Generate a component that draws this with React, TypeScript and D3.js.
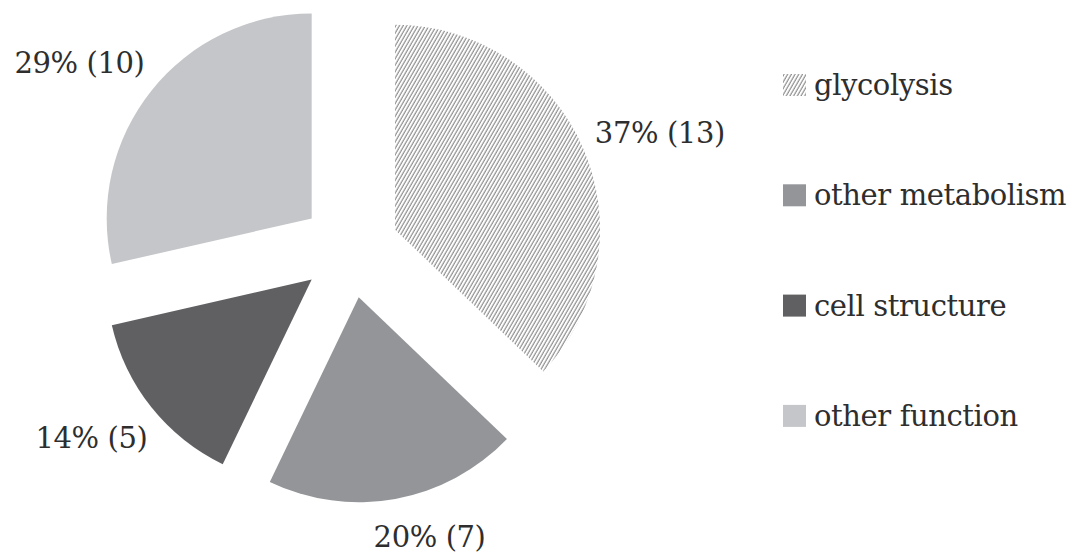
import React, { useRef, useEffect } from 'react';
import * as d3 from 'd3';

const WIDTH = 1071;
const HEIGHT = 554;

// Data
const categories = ['glycolysis', 'other metabolism', 'cell structure', 'other function'];
const counts = [13, 7, 5, 10];
const percents = ['37%', '20%', '14%', '29%'];

// Styles
const FILLS = ['url(#hatch)', '#939598', '#606063', '#c5c6c9'];
const FONT = "'DejaVu Serif', serif";
const FONT_SIZE = '29px';
const TRACKING = '-0.4px';
const TEXT_COLOR = '#2e2e2e';

// Layout
const CX = 350;
const CY = 249;
const RADIUS = 205;
const EXPLODE = 49;
const LABEL_R = 300;
const LABEL_NUDGE: [number, number][] = [
  [34, 0],
  [26, -9],
  [-24, 0],
  [-36, -1],
];
const LEGEND_X = 783;
const LEGEND_Y = 74;
const LEGEND_STEP = 110.3;
const SWATCH = 23;

const App: React.FC = () => {
  const svgRef = useRef<SVGSVGElement>(null);

  useEffect(() => {
    if (!svgRef.current) return;
    const svg = d3.select(svgRef.current);
    svg.selectAll('*').remove();

    // hatch pattern for glycolysis
    const defs = svg.append('defs');
    const pat = defs
      .append('pattern')
      .attr('id', 'hatch')
      .attr('patternUnits', 'userSpaceOnUse')
      .attr('width', 3.2)
      .attr('height', 10)
      .attr('patternTransform', 'rotate(30)');
    pat.append('rect').attr('width', 3.2).attr('height', 10).attr('fill', '#ffffff');
    pat
      .append('line')
      .attr('x1', 1)
      .attr('x2', 1)
      .attr('y1', 0)
      .attr('y2', 10)
      .attr('stroke', '#909090')
      .attr('stroke-width', 1.2);

    const pie = d3
      .pie<number>()
      .sort(null)
      .value((d) => d);
    const arcs = pie(counts);

    const arc = d3.arc<d3.PieArcDatum<number>>().innerRadius(0).outerRadius(RADIUS);

    const g = svg.append('g').attr('transform', `translate(${CX},${CY})`);

    // exploded slices
    g.selectAll('path.slice')
      .data(arcs)
      .join('path')
      .attr('class', 'slice')
      .attr('d', (d) => arc(d) ?? '')
      .attr('fill', (_, i) => FILLS[i])
      .attr('transform', (d) => {
        const mid = (d.startAngle + d.endAngle) / 2;
        return `translate(${EXPLODE * Math.sin(mid)},${-EXPLODE * Math.cos(mid)})`;
      });

    // data labels
    g.selectAll('text.label')
      .data(arcs)
      .join('text')
      .attr('class', 'label')
      .attr('x', (d, i) => LABEL_R * Math.sin((d.startAngle + d.endAngle) / 2) + LABEL_NUDGE[i][0])
      .attr('y', (d, i) => -LABEL_R * Math.cos((d.startAngle + d.endAngle) / 2) + LABEL_NUDGE[i][1])
      .attr('dy', '0.4em')
      .attr('text-anchor', 'middle')
      .attr('fill', TEXT_COLOR)
      .style('font-family', FONT)
      .style('font-size', FONT_SIZE)
      .style('letter-spacing', TRACKING)
      .text((d, i) => `${percents[i]} (${counts[i]})`);

    // legend
    const legend = svg.append('g').attr('transform', `translate(${LEGEND_X},${LEGEND_Y})`);
    const items = legend
      .selectAll('g.item')
      .data(categories)
      .join('g')
      .attr('class', 'item')
      .attr('transform', (_, i) => `translate(0,${i * LEGEND_STEP})`);
    items
      .append('rect')
      .attr('width', SWATCH)
      .attr('height', SWATCH - 1)
      .attr('fill', (_, i) => FILLS[i]);
    items
      .append('text')
      .attr('x', 31)
      .attr('y', 21)
      .attr('fill', TEXT_COLOR)
      .style('font-family', FONT)
      .style('font-size', FONT_SIZE)
      .style('letter-spacing', TRACKING)
      .text((d) => d);
  }, []);

  return (
    <svg
      ref={svgRef}
      width={WIDTH}
      height={HEIGHT}
      style={{ position: 'absolute', left: 0, top: 0, background: '#ffffff' }}
    />
  );
};

export default App;
